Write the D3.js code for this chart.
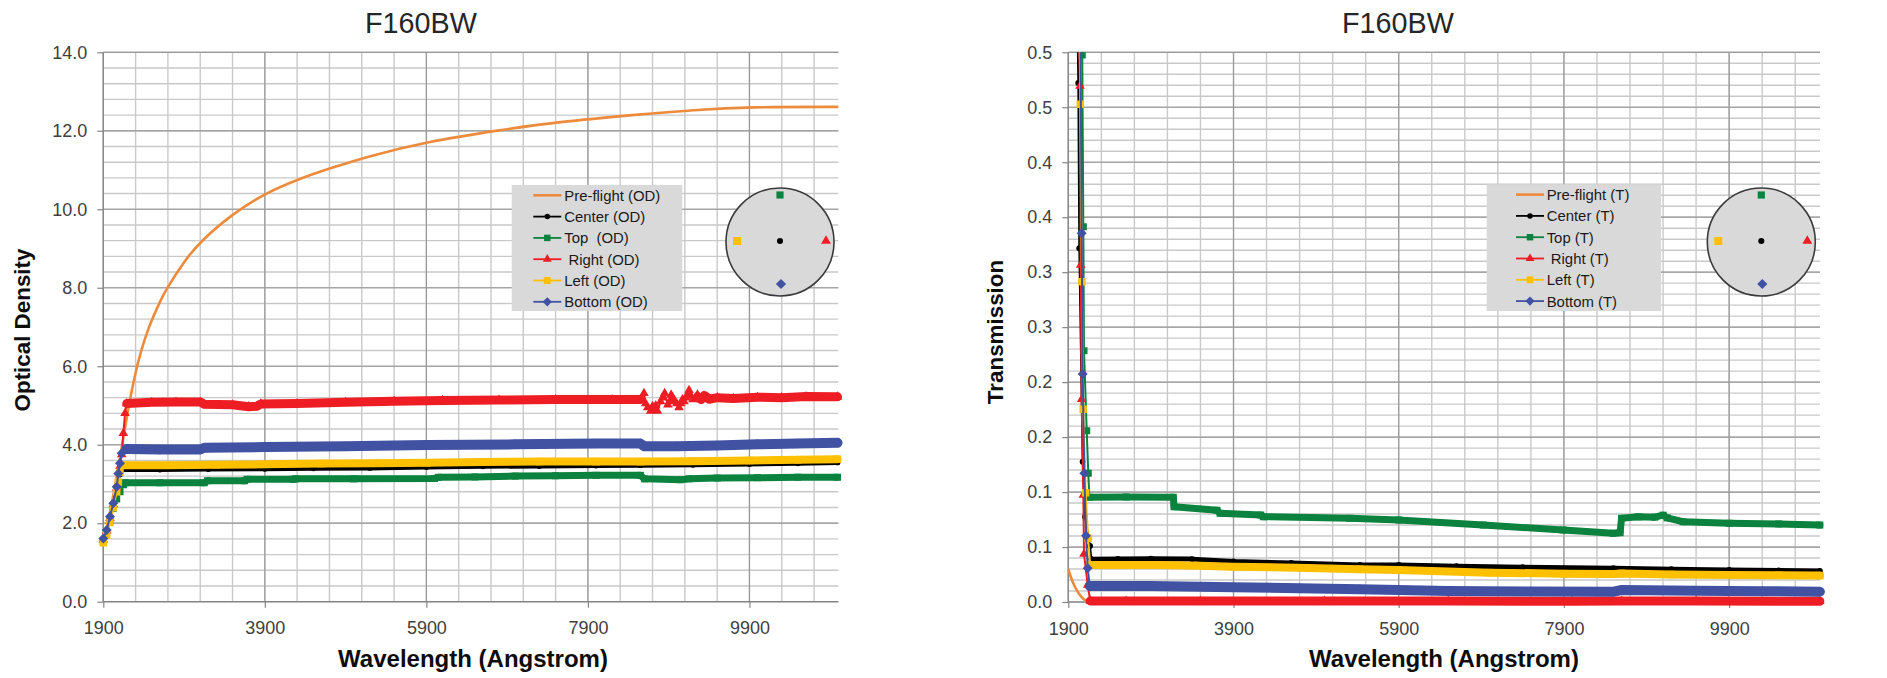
<!DOCTYPE html>
<html><head><meta charset="utf-8">
<script src="https://cdn.jsdelivr.net/npm/d3@7"></script>
<style>
body{margin:0;background:#fff}
text{font-family:"Liberation Sans",Arial,sans-serif}
.pre{white-space:pre}
</style></head>
<body>
<svg id="chart" width="1887" height="678"></svg>
<script>
// ---------------- DATA ----------------
const xTickValues = [1900, 3900, 5900, 7900, 9900];
const xTickLabels = ["1900", "3900", "5900", "7900", "9900"];
const odTickValues = [0, 2, 4, 6, 8, 10, 12, 14];
const odTickLabels = ["0.0", "2.0", "4.0", "6.0", "8.0", "10.0", "12.0", "14.0"];
const tTickValues = [0, 0.05, 0.10, 0.15, 0.20, 0.25, 0.30, 0.35, 0.40, 0.45, 0.50];
const tTickLabels = ["0.0", "0.1", "0.1", "0.2", "0.2", "0.3", "0.3", "0.4", "0.4", "0.5", "0.5"];

const odLegendLabels = ["Pre-flight (OD)", "Center (OD)", "Top  (OD)", " Right (OD)", "Left (OD)", "Bottom (OD)"];
const tLegendLabels = ["Pre-flight (T)", "Center (T)", "Top (T)", " Right (T)", "Left (T)", "Bottom (T)"];

// Optical density series [wavelength, OD]
const preflightOD = [[1900,1.5],[1950,1.95],[2000,2.45],[2050,3.0],[2100,3.6],[2150,4.2],[2200,4.8],[2240,5.26],[2300,5.85],[2355,6.30],[2450,6.95],[2611,7.69],[2673,7.94],[2892,8.65],[3099,9.18],[3511,9.90],[3896,10.40],[4338,10.79],[4751,11.07],[5165,11.34],[5900,11.72],[6817,12.02],[7500,12.22],[8553,12.42],[9200,12.53],[9900,12.61],[11000,12.61]];
const centerOD = [[1900,1.55],[1942,1.78],[1983,2.10],[2024,2.45],[2066,2.85],[2107,3.25],[2140,3.37],[2600,3.37],[3200,3.38],[3900,3.39],[4500,3.40],[5200,3.41],[5900,3.43],[6600,3.45],[7300,3.46],[8000,3.47],[8550,3.48],[9200,3.49],[9900,3.51],[10500,3.53],[10990,3.55]];
const topOD = [[1900,1.55],[1942,1.76],[1983,2.06],[2024,2.38],[2066,2.62],[2107,2.80],[2150,2.98],[2170,3.03],[2600,3.03],[3150,3.03],[3190,3.08],[3650,3.08],[3680,3.12],[4250,3.12],[4280,3.13],[5000,3.13],[6000,3.14],[6050,3.17],[6500,3.18],[7000,3.20],[7500,3.21],[8000,3.22],[8550,3.22],[8600,3.13],[9050,3.11],[9150,3.13],[9500,3.15],[10000,3.16],[10500,3.17],[10990,3.17]];
const rightOD = [[1900,1.58],[1942,1.80],[1983,2.13],[2024,2.48],[2066,2.90],[2107,3.45],[2128,3.75],[2148,4.29],[2169,4.80],[2190,5.05],[2500,5.08],[2800,5.09],[3100,5.09],[3150,5.03],[3500,5.02],[3700,4.97],[3800,4.98],[3850,5.04],[4300,5.05],[4900,5.08],[5500,5.11],[6100,5.13],[6800,5.14],[7500,5.15],[8200,5.15],[8550,5.15],[8594,5.31],[8615,5.05],[8640,4.95],[8677,4.86],[8700,4.98],[8720,4.92],[8740,5.00],[8760,4.86],[8800,5.10],[8825,5.20],[8850,5.31],[8890,5.02],[8910,5.10],[8930,5.27],[8950,5.20],[8970,5.12],[9000,5.05],[9028,4.95],[9050,5.05],[9070,5.15],[9090,5.10],[9110,5.20],[9130,5.25],[9152,5.39],[9175,5.25],[9200,5.15],[9230,5.20],[9256,5.27],[9280,5.20],[9300,5.15],[9320,5.20],[9338,5.25],[9370,5.22],[9400,5.16],[9504,5.20],[9700,5.18],[10000,5.21],[10300,5.20],[10600,5.23],[10990,5.22]];
const leftOD = [[1900,1.50],[1942,1.70],[1983,2.02],[2024,2.40],[2066,2.80],[2086,3.05],[2107,3.30],[2150,3.48],[2700,3.48],[3300,3.49],[3900,3.50],[4600,3.52],[5300,3.53],[5900,3.54],[6600,3.56],[7300,3.57],[8000,3.57],[8550,3.57],[9200,3.58],[9900,3.60],[10500,3.62],[10990,3.63]];
const bottomOD = [[1900,1.61],[1942,1.83],[1983,2.17],[2024,2.51],[2066,2.93],[2086,3.27],[2107,3.53],[2128,3.78],[2190,3.89],[2600,3.88],[3100,3.88],[3150,3.92],[3900,3.94],[4900,3.96],[5900,3.99],[7000,4.01],[8000,4.03],[8550,4.03],[8600,3.96],[9000,3.96],[9500,3.98],[10000,4.01],[10500,4.03],[10990,4.05]];

// Transmission series [wavelength, T]
const preflightT = [[1900,0.030],[1930,0.023],[1960,0.017],[2000,0.011],[2040,0.0065],[2080,0.003],[2120,0.001],[2160,0.0002],[2300,0.0],[11000,0.0]];
const centerT = [[1900,2.5],[1942,1.45],[1983,0.68],[2021,0.472],[2033,0.3217],[2074,0.1276],[2102,0.0776],[2163,0.0509],[2180,0.0388],[2500,0.0392],[2900,0.0394],[3400,0.0390],[3900,0.0368],[4600,0.0355],[5430,0.0337],[5900,0.0337],[6600,0.0325],[7400,0.0316],[8500,0.0306],[9200,0.0298],[9900,0.0291],[10500,0.0286],[10998,0.0282]];
const topT = [[1900,2.8],[1983,0.90],[2069,0.4975],[2082,0.3414],[2090,0.2286],[2123,0.1558],[2142,0.1171],[2155,0.0952],[2600,0.0955],[3171,0.0952],[3180,0.0867],[3700,0.0835],[3737,0.0807],[4230,0.0792],[4260,0.0776],[5309,0.0761],[5900,0.0746],[6923,0.0700],[7891,0.0655],[8496,0.0625],[8580,0.0630],[8597,0.0761],[8800,0.0775],[9000,0.0772],[9101,0.0790],[9150,0.0765],[9343,0.0730],[9900,0.0716],[10500,0.0710],[10998,0.0700]];
const rightT = [[1900,2.6],[1983,0.74],[2042,0.4693],[2050,0.3065],[2062,0.1844],[2082,0.0973],[2090,0.0437],[2135,0.0155],[2165,0.0010],[2600,0.0008],[3500,0.0009],[5000,0.0008],[6500,0.0008],[8000,0.0007],[8600,0.0009],[9500,0.0008],[10998,0.0007]];
const leftT = [[1900,3.1],[1983,0.95],[2045,0.4527],[2065,0.2913],[2080,0.1753],[2110,0.0994],[2140,0.0580],[2165,0.0337],[2600,0.0337],[3000,0.0337],[3500,0.0330],[3900,0.0321],[4800,0.0310],[5430,0.0297],[5900,0.0291],[7000,0.0267],[7900,0.0258],[8500,0.0255],[8600,0.0260],[9200,0.0250],[9900,0.0246],[10500,0.0243],[10998,0.0240]];
const bottomT = [[1900,2.45],[1983,0.68],[2040,0.60],[2062,0.3354],[2074,0.2074],[2094,0.1171],[2114,0.0603],[2135,0.0307],[2160,0.0146],[2600,0.0146],[2900,0.0145],[3900,0.0134],[4700,0.0125],[5430,0.0116],[6500,0.0100],[7500,0.0096],[8500,0.0094],[8600,0.0109],[9500,0.0103],[10300,0.0098],[10998,0.0094]];

// ---------------- STYLE ----------------
const COL = {pre:"#ED8B3C", center:"#000000", top:"#0B823E", right:"#EE1D24", left:"#FFC000", bottom:"#4152A3"};
const diamond = {draw(ctx, size){ const r = Math.sqrt(size/2); ctx.moveTo(0,-r); ctx.lineTo(r,0); ctx.lineTo(0,r); ctx.lineTo(-r,0); ctx.closePath(); }};
const STY = {
  pre:    {color:COL.pre, shape:null},
  center: {color:COL.center, shape:d3.symbolCircle, size:28, band:5},
  top:    {color:COL.top, shape:d3.symbolSquare, size:49, band:7},
  right:  {color:COL.right, shape:d3.symbolTriangle, size:40, band:9},
  left:   {color:COL.left, shape:d3.symbolSquare, size:56, band:8},
  bottom: {color:COL.bottom, shape:diamond, size:50, band:10}
};
// target text widths (px) measured on the reference, used to fit font sizes
const FIT = {title:112, xTitle:270, yTitle:163, tick:35, legend:96};

const svg = d3.select("#chart");
const font = {};
function fitSize(text, weight, target, base){
  const t = svg.append("text").style("font-size", base + "px").style("font-weight", weight).text(text);
  const w = t.node().getComputedTextLength();
  t.remove();
  return base * target / w;
}
font.title = fitSize("F160BW", "normal", FIT.title, 29);
font.xTitle = fitSize("Wavelength (Angstrom)", "bold", FIT.xTitle, 22);
font.yTitle = fitSize("Optical Density", "bold", FIT.yTitle, 21);
font.tick = fitSize("14.0", "normal", FIT.tick, 17);
font.legend = fitSize("Pre-flight (OD)", "normal", FIT.legend, 15);

function drawChart(cfg){
  const x = d3.scaleLinear().domain([1900, 11000]).range([cfg.left, cfg.right]);
  const y = d3.scaleLinear().domain(cfg.yDomain).range([cfg.bottom, cfg.top]);
  const g = svg.append("g");

  // minor grid
  const xMinor = d3.range(1900, 11000, 400);
  const yMinor = d3.range(0, cfg.yMinorCount + 1).map(i => i * cfg.yMinorStep);
  g.append("g").selectAll("line").data(xMinor).join("line")
    .attr("x1", d => x(d)).attr("x2", d => x(d)).attr("y1", cfg.top).attr("y2", cfg.bottom)
    .attr("stroke", "#c9c9c9").attr("stroke-width", 1.4);
  g.append("g").selectAll("line").data(yMinor).join("line")
    .attr("x1", cfg.left).attr("x2", cfg.right).attr("y1", d => y(d)).attr("y2", d => y(d))
    .attr("stroke", "#c9c9c9").attr("stroke-width", 1.4);
  // major grid
  g.append("g").selectAll("line").data(xTickValues).join("line")
    .attr("x1", d => x(d)).attr("x2", d => x(d)).attr("y1", cfg.top).attr("y2", cfg.bottom)
    .attr("stroke", "#999999").attr("stroke-width", 1.2);
  g.append("g").selectAll("line").data(cfg.yTicks).join("line")
    .attr("x1", cfg.left).attr("x2", cfg.right).attr("y1", d => y(d)).attr("y2", d => y(d))
    .attr("stroke", "#999999").attr("stroke-width", 1.2);

  // axes
  const ax = d3.axisBottom(x).tickValues(xTickValues).tickFormat((d,i) => xTickLabels[i]).tickSize(6).tickPadding(14);
  const gx = g.append("g").attr("transform", `translate(0,${cfg.bottom})`).call(ax);
  const ay = d3.axisLeft(y).tickValues(cfg.yTicks).tickFormat((d,i) => cfg.yTickLabels[i]).tickSize(6).tickPadding(10);
  const gy = g.append("g").attr("transform", `translate(${cfg.left},0)`).call(ay);
  [gx, gy].forEach(a => {
    a.select(".domain").attr("stroke", "#868686").attr("stroke-width", 1.2);
    a.selectAll(".tick line").attr("stroke", "#868686").attr("stroke-width", 1.2);
    a.selectAll(".tick text").attr("fill", "#404040").style("font-size", font.tick + "px")
      .style("font-family", '"Liberation Sans",Arial,sans-serif');
  });
  gx.select(".domain").attr("d", `M${cfg.left},0H${cfg.right}`);
  gy.select(".domain").attr("d", `M0,${cfg.bottom}V${cfg.top}`);

  // titles
  g.append("text").attr("x", cfg.titleX).attr("y", 33).attr("text-anchor", "middle")
    .attr("fill", "#262626").style("font-size", font.title + "px").text(cfg.title);
  g.append("text").attr("x", cfg.xTitleX).attr("y", 667).attr("text-anchor", "middle")
    .attr("fill", "#0d0d0d").style("font-size", font.xTitle + "px").style("font-weight", "bold").text("Wavelength (Angstrom)");
  g.append("text").attr("transform", `translate(${cfg.yTitleX},${cfg.yTitleY}) rotate(-90)`).attr("text-anchor", "middle")
    .attr("fill", "#0d0d0d").style("font-size", font.yTitle + "px").style("font-weight", "bold").text(cfg.yTitle);

  // clip
  const cid = "clip" + cfg.id;
  svg.append("defs").append("clipPath").attr("id", cid).append("rect")
    .attr("x", cfg.left - 8).attr("y", cfg.top).attr("width", cfg.right - cfg.left + 16).attr("height", cfg.bottom - cfg.top + 10);
  const plot = g.append("g").attr("clip-path", `url(#${cid})`);

  const line = d3.line().x(d => x(d[0])).y(d => y(d[1]));
  cfg.series.forEach(s => {
    const st = STY[s.key];
    if (!st.shape) {
      const smooth = d3.line().x(d => x(d[0])).y(d => y(d[1])).curve(s.curve || d3.curveMonotoneX);
      plot.append("path").attr("d", smooth(s.data))
        .attr("fill", "none").attr("stroke", st.color).attr("stroke-width", 2.6);
      return;
    }
    plot.append("path").attr("d", line(s.data)).attr("fill", "none").attr("stroke", st.color).attr("stroke-width", 2);
    const gap = s.bandGap || [Infinity, Infinity];
    const parts = [s.data.filter(d => d[0] >= s.bandFrom && d[0] <= gap[0]), s.data.filter(d => d[0] >= gap[1])];
    parts.filter(p => p.length > 1).forEach(p => {
      plot.append("path").attr("d", line(p)).attr("fill", "none").attr("stroke", st.color)
        .attr("stroke-width", st.band).attr("stroke-linejoin", "round").attr("stroke-linecap", "round");
    });
    plot.append("g").selectAll("path").data(s.data).join("path")
      .attr("transform", d => `translate(${x(d[0])},${y(d[1])})`)
      .attr("d", d3.symbol().type(st.shape).size(st.size)()).attr("fill", st.color);
  });

  // legend
  const L = cfg.legend;
  g.append("rect").attr("x", L.x).attr("y", L.y).attr("width", L.w).attr("height", L.h).attr("fill", "#d9d9d9");
  const keys = ["pre", "center", "top", "right", "left", "bottom"];
  keys.forEach((k, i) => {
    const st = STY[k];
    const yy = L.y0 + i * 21.3;
    g.append("line").attr("x1", L.sx).attr("x2", L.sx + 28).attr("y1", yy).attr("y2", yy)
      .attr("stroke", st.color).attr("stroke-width", k === "pre" ? 2.6 : 1.8);
    if (st.shape) g.append("path").attr("transform", `translate(${L.sx + 14},${yy})`)
      .attr("d", d3.symbol().type(st.shape).size(st.size * 0.85)()).attr("fill", st.color);
    g.append("text").attr("class", "pre").attr("x", L.tx).attr("y", yy + 5.5).attr("fill", "#1a1a1a")
      .style("font-size", font.legend + "px").text(cfg.legendLabels[i]);
  });

  // position diagram
  const C = cfg.circle;
  g.append("circle").attr("cx", C.cx).attr("cy", C.cy).attr("r", 54).attr("fill", "#d9d9d9")
    .attr("stroke", "#3a3a3a").attr("stroke-width", 1.6);
  const pos = [["top", 0, -47], ["center", 0, -1], ["right", 46, -1], ["left", -43, -1], ["bottom", 1, 42]];
  pos.forEach(p => {
    const st = STY[p[0]];
    g.append("path").attr("transform", `translate(${C.cx + p[1]},${C.cy + p[2]})`)
      .attr("d", d3.symbol().type(st.shape).size(p[0] === "left" ? 64 : st.size * 1.05)()).attr("fill", st.color);
  });
}

drawChart({
  id: "OD", left: 103.3, right: 838.3, top: 52.3, bottom: 601.7,
  yDomain: [0, 14], yTicks: odTickValues, yTickLabels: odTickLabels, yMinorStep: 0.4, yMinorCount: 35,
  title: "F160BW", titleX: 421, xTitleX: 473, yTitle: "Optical Density", yTitleX: 30, yTitleY: 330,
  series: [
    {key: "pre", data: preflightOD, curve: d3.curveBasis},
    {key: "center", data: centerOD, bandFrom: 2140},
    {key: "top", data: topOD, bandFrom: 2170},
    {key: "right", data: rightOD, bandFrom: 2190, bandGap: [8560, 9290]},
    {key: "left", data: leftOD, bandFrom: 2150},
    {key: "bottom", data: bottomOD, bandFrom: 2190}
  ],
  legend: {x: 511.7, y: 185, w: 170.6, h: 126, y0: 195.3, sx: 533.3, tx: 564.3},
  legendLabels: odLegendLabels,
  circle: {cx: 780, cy: 242}
});

drawChart({
  id: "T", left: 1068.3, right: 1820, top: 52.3, bottom: 602,
  yDomain: [0, 0.5], yTicks: tTickValues, yTickLabels: tTickLabels, yMinorStep: 0.01, yMinorCount: 50,
  title: "F160BW", titleX: 1398, xTitleX: 1444, yTitle: "Transmission", yTitleX: 1003, yTitleY: 332,
  series: [
    {key: "pre", data: preflightT},
    {key: "center", data: centerT, bandFrom: 2180},
    {key: "top", data: topT, bandFrom: 2155},
    {key: "right", data: rightT, bandFrom: 2165},
    {key: "left", data: leftT, bandFrom: 2165},
    {key: "bottom", data: bottomT, bandFrom: 2160}
  ],
  legend: {x: 1486.7, y: 184.3, w: 174.3, h: 126.7, y0: 194.6, sx: 1516, tx: 1546.7},
  legendLabels: tLegendLabels,
  circle: {cx: 1761.3, cy: 242}
});
</script>
</body></html>
